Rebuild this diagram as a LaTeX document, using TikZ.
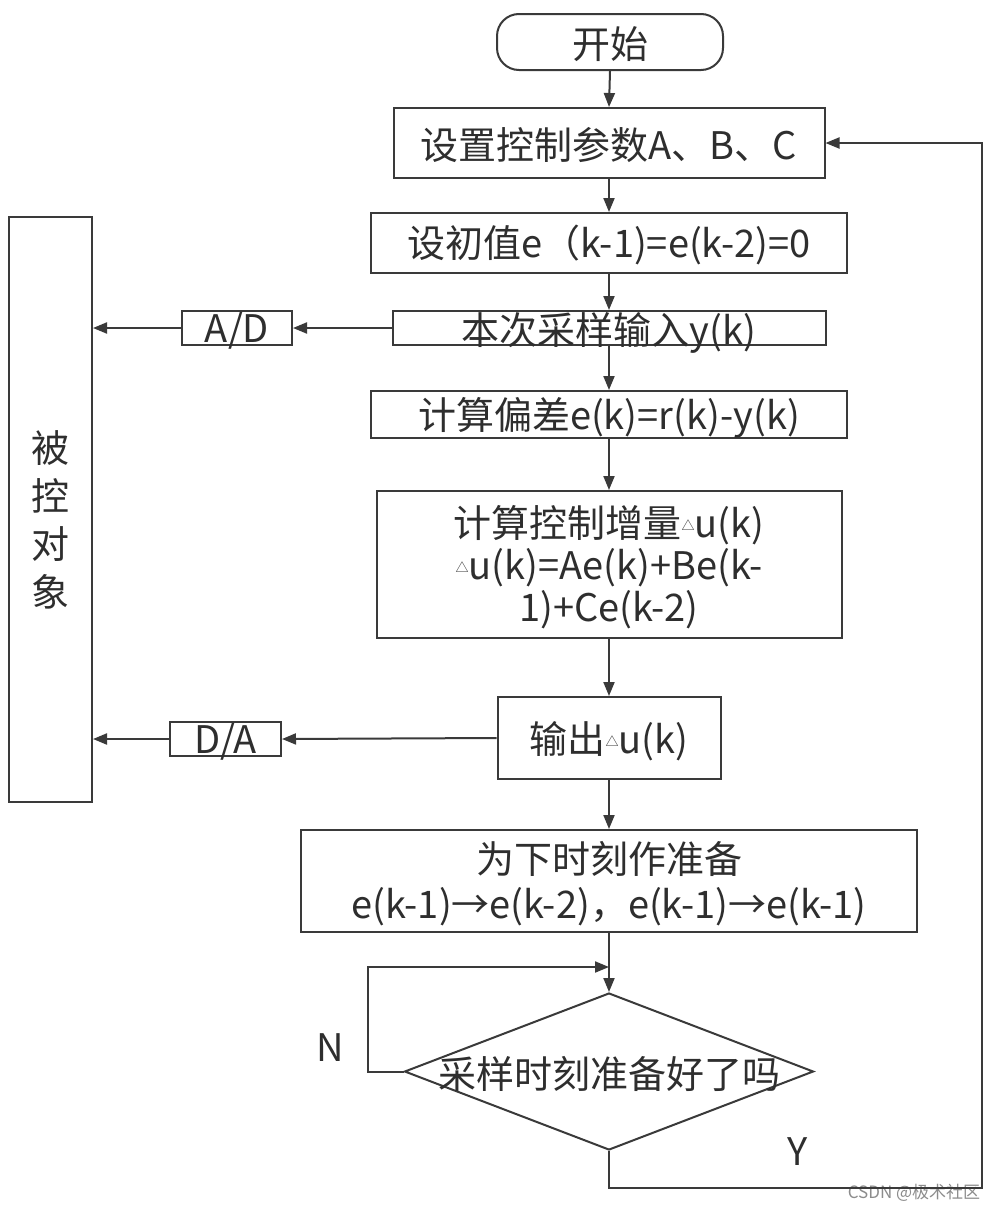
\documentclass[tikz,border=0pt]{standalone}
\usepackage{fontspec}
\setmainfont{Noto Sans CJK SC}
\usetikzlibrary{arrows.meta,shapes.geometric}
\definecolor{lncol}{HTML}{3A3A3A}
\definecolor{txcol}{HTML}{2E2E2E}
\newcommand{\smalltri}{\raisebox{7pt}{\fontsize{13pt}{13pt}\selectfont △}}
\begin{document}
\begin{tikzpicture}[x=1pt,y=-1pt,
  box/.style={draw=lncol, line width=2pt, inner sep=0pt, rectangle},
  lbl/.style={text=txcol, font=\fontsize{38pt}{44pt}\selectfont, inner sep=0pt, align=center},
  wire/.style={draw=lncol, line width=2pt},
  arr/.style={wire, -{Triangle[length=14pt,width=11pt]}}]
\useasboundingbox (0,0) rectangle (998,1210);
\fill[white] (0,0) rectangle (998,1210);

% shapes
\node[box, rounded corners=22pt, minimum width=226pt, minimum height=56pt] (start) at (610,42) {};
\node[box, minimum width=431pt, minimum height=70pt] (b1) at (609,143) {};
\node[box, minimum width=476pt, minimum height=60pt] (b2) at (609,243) {};
\node[box, minimum width=433pt, minimum height=34pt] (b3) at (609,328) {};
\node[box, minimum width=476pt, minimum height=47pt] (b4) at (609,414.5) {};
\node[box, minimum width=465pt, minimum height=147pt] (b5) at (609,564.5) {};
\node[box, minimum width=223pt, minimum height=82pt] (b6) at (609,738) {};
\node[box, minimum width=616pt, minimum height=102pt] (b7) at (609,881) {};
\node[diamond, draw=lncol, line width=2pt, inner sep=0pt, minimum width=409pt, minimum height=157pt] (d) at (609,1071.5) {};
\node[box, minimum width=83pt, minimum height=585pt] (plant) at (50.5,509.5) {};
\node[box, minimum width=110pt, minimum height=34pt] (ad) at (237,328) {};
\node[box, minimum width=111pt, minimum height=34pt] (da) at (225.5,739) {};

% texts
\node[lbl] (tstart) at (610,44) {开始};
\node[lbl] (t1) at (609,145) {设置控制参数A、B、C};
\node[lbl] (t2) at (609,245) {设初值e（k-1)=e(k-2)=0};
\node[lbl] (t3) at (609,333) {本次采样输入y(k)};
\node[lbl] (t4) at (609,418) {计算偏差e(k)=r(k)-y(k)};
\node[lbl, font=\fontsize{38pt}{42pt}\selectfont] (t5) at (609,567) {计算控制增量\smalltri u(k)\\\smalltri u(k)=Ae(k)+Be(k-\\1)+Ce(k-2)};
\node[lbl] (t6) at (609,741) {输出\smalltri u(k)};
\node[lbl, font=\fontsize{38pt}{45pt}\selectfont] (t7) at (609,884) {为下时刻作准备\\e(k-1)→e(k-2)，e(k-1)→e(k-1)};
\node[lbl] (td) at (609,1074) {采样时刻准备好了吗};
\node[lbl, font=\fontsize{38pt}{48pt}\selectfont] (tplant) at (50,520) {被\\控\\对\\象};
\node[lbl] (tad) at (237,331) {A/D};
\node[lbl] (tda) at (225.5,742) {D/A};
\node[lbl] (tn) at (330,1048) {N};
\node[lbl] (ty) at (798,1152) {Y};
\node[text=black!45, font=\fontsize{17pt}{17pt}\selectfont, inner sep=0pt] (wm) at (914,1193) {CSDN @极术社区};

% connectors
\draw[arr] (start.south) -- (b1.north);
\draw[arr] (b1.south) -- (b2.north);
\draw[arr] (b2.south) -- (b3.north);
\draw[arr] (b3.south) -- (b4.north);
\draw[arr] (b4.south) -- (b5.north);
\draw[arr] (b5.south) -- (b6.north);
\draw[arr] (b6.south) -- (b7.north);
\draw[arr] (b7.south) -- (d.north);

\draw[arr] (b3.west) -- (ad.east);
\draw[arr] (ad.west) -- (plant.east |- ad.west);
\draw[arr] (b6.west) -- (da.east);
\draw[arr] (da.west) -- (plant.east |- da.west);

\coordinate (nloop) at (368,967);
\coordinate (join) at (609,967);
\draw[arr] (d.west) -| (nloop) -- (join);

\coordinate (ybot) at (609,1188);
\coordinate (yright) at (982,1188);
\draw[arr] (d.south) -- (ybot) -- (yright) |- (b1.east);
\end{tikzpicture}
\end{document}
